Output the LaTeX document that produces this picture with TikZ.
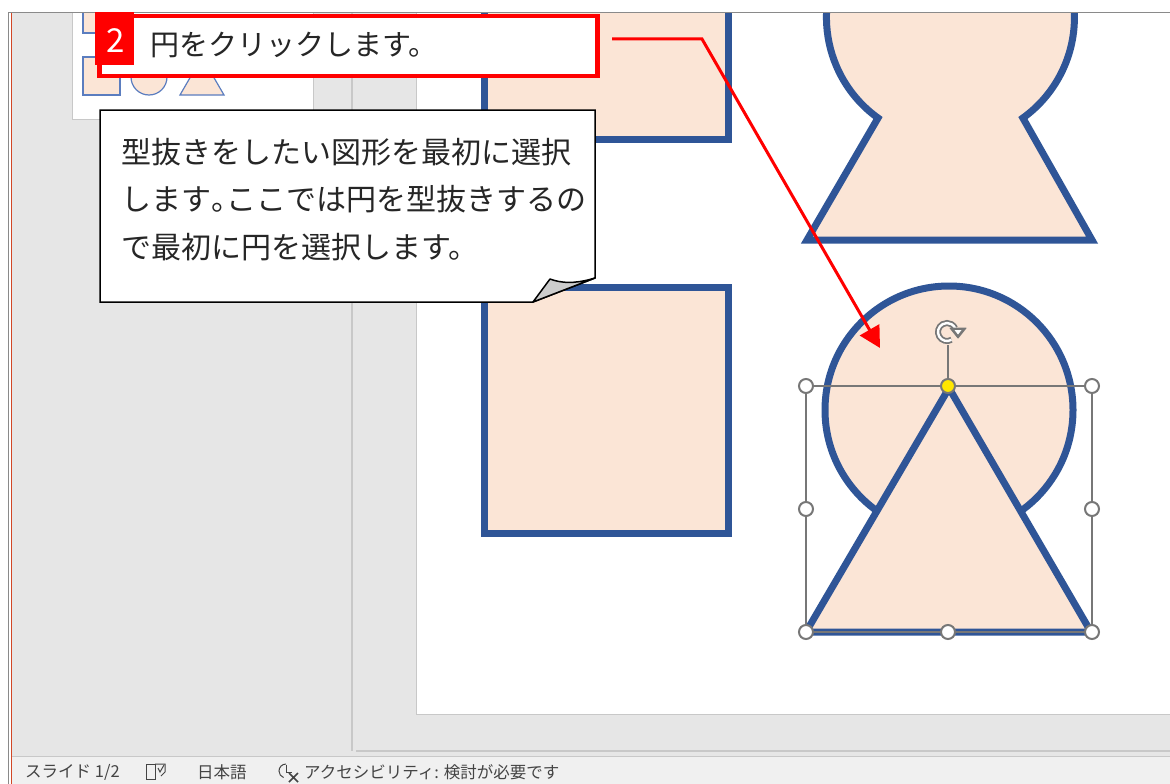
\documentclass[tikz,border=0pt]{standalone}
\usepackage{fontspec}
\setmainfont{Noto Sans CJK JP}
\usetikzlibrary{arrows.meta}
\definecolor{bgrey}{HTML}{E6E6E6}
\definecolor{statusbg}{HTML}{F0F0F0}
\definecolor{panelline}{HTML}{C8C8C8}
\definecolor{edgegrey}{HTML}{8A8A8A}
\definecolor{accent}{HTML}{D24726}
\definecolor{peach}{HTML}{FBE5D6}
\definecolor{shapeblue}{HTML}{2F5597}
\definecolor{thumbblue}{HTML}{5B7DBF}
\definecolor{handlegrey}{HTML}{777777}
\definecolor{handleyellow}{HTML}{FFE600}
\definecolor{stattext}{HTML}{444444}
\definecolor{foldgrey}{HTML}{CCCCCC}
\definecolor{redmark}{HTML}{FF0000}
\tikzset{
  slideshape/.style={fill=peach, draw=shapeblue, line width=7pt, line join=miter},
  thumbshape/.style={fill=peach, draw=thumbblue, line width=1.2pt},
  handle/.style={circle, fill=white, draw=handlegrey, line width=2pt, minimum size=14pt, inner sep=0pt},
  yhandle/.style={circle, fill=handleyellow, draw=handlegrey, line width=2pt, minimum size=14pt, inner sep=0pt},
  selline/.style={draw=handlegrey, line width=1.3pt},
  stat/.style={text=stattext, font=\fontsize{16.5}{18}\selectfont, inner sep=0pt, anchor=west},
  redarrow/.style={draw=redmark, line width=3pt, -{Triangle[length=21pt,width=22pt]}},
}
\begin{document}
\begin{tikzpicture}[x=1pt,y=-1pt]
\useasboundingbox (0,0) rectangle (1170,784);
\fill[white] (0,0) rectangle (1170,784);
% window areas
\fill[bgrey] (12,13) rectangle (1170,757);
\fill[statusbg] (12,757) rectangle (1170,784);
\draw[panelline, line width=1pt] (12,756.5) -- (1170,756.5);
\draw[panelline, line width=1.5pt] (352,13) -- (352,751);
\draw[panelline, line width=1.5pt] (356,751) -- (1170,751);
% slide
\fill[white] (417,13) rectangle (1170,714);
\draw[panelline, line width=1pt] (416.5,13) -- (416.5,714.5) -- (1170,714.5);
% slide shapes
\begin{scope}
\clip (417,13) rectangle (1170,714);
\draw[slideshape] (484,0) rectangle (728,139.5);
\draw[slideshape] (484,287) rectangle (728,533);
\draw[slideshape] (878,118) arc[start angle=125.75, end angle=414.25, radius=124] -- (1092,240) -- (807,240) -- cycle;
\draw[slideshape] (949,410) circle[radius=124];
\draw[slideshape] (949,388) -- (1091,632) -- (806,632) -- cycle;
\end{scope}
% selection frame
\draw[selline] (806,386) rectangle (1092,632);
\draw[selline] (948,345) -- (948,386);
\draw[handlegrey, line width=6pt] (947,332) ++(60:9) arc[start angle=60, end angle=335, radius=9];
\draw[white, line width=2.4pt] (947,332) ++(60:9) arc[start angle=60, end angle=335, radius=9];
\filldraw[handlegrey, line width=1pt, line join=round] (950,328) -- (966,328) -- (958,338) -- cycle;
\fill[white] (954.5,330) -- (961.5,330) -- (958,334.5) -- cycle;
\node[handle] (h1) at (806,386) {};
\node[yhandle] (h2) at (948,386) {};
\node[handle] (h3) at (1092,386) {};
\node[handle] (h4) at (806,509) {};
\node[handle] (h5) at (1092,509) {};
\node[handle] (h6) at (806,632) {};
\node[handle] (h7) at (948,632) {};
\node[handle] (h8) at (1092,632) {};
% thumbnail
\fill[white] (72,13) rectangle (313,119.5);
\draw[panelline, line width=1pt] (72,13) -- (72,119.5) -- (313,119.5) -- (313,13);
\begin{scope}
\clip (72,13) rectangle (313,119.5);
\draw[thumbshape] (83,0) rectangle (120,33);
\draw[thumbshape] (83,57) rectangle (120,95);
\draw[thumbshape] (149,77) circle[radius=18];
\draw[thumbshape] (180,95) -- (224,95) -- (202,57) -- cycle;
\end{scope}
% left window edge
\draw[edgegrey, line width=1.5pt] (8.5,12.5) -- (8.5,784);
\draw[edgegrey, line width=1.5pt] (8,12.5) -- (1170,12.5);
\draw[accent, line width=1pt] (11,13.5) -- (11,784);
% step box
\node[draw=redmark, fill=white, line width=4.5pt, minimum width=498pt, minimum height=60pt, anchor=north west, inner sep=0pt] (step2) at (97,14) {};
\fill[redmark] (95,12) rectangle (134,65);
\node[text=white, font=\fontsize{33}{33}\selectfont, inner sep=0pt] (num) at (115.5,41) {2};
\node[anchor=base west, inner sep=0pt, text=black!85, font=\fontsize{29}{29}\selectfont] (steptext) at (150,56) {円をクリックします。};
% callout
\draw[black, line width=1.5pt, fill=white] (100,110) -- (595,110) -- (595,278) -- (533,302) -- (100,302) -- cycle;
\draw[black, line width=1.5pt, fill=foldgrey, line join=round] (533,302) -- (550,279) .. controls (566,285) and (582,282) .. (595,278) -- cycle;
\node[anchor=north west, inner sep=0pt, align=left, text=black!85, font=\fontsize{30}{47.5}\selectfont] (callout) at (121,138) {型抜きをしたい図形を最初に選択\\します{\addfontfeature{RawFeature=+halt}。}ここでは円を型抜きするの\\で最初に円を選択します。};
% red pointer
\coordinate (p0) at (612,39);
\coordinate (p1) at (702,39);
\coordinate (p2) at (880,348);
\draw[redarrow] (p0) -- (p1) -- (p2);
% status bar
\node[stat] (s1) at (25,772) {スライド 1/2};
\draw[stattext, line width=1pt] (146,764) rectangle (155,779);
\draw[stattext, line width=1pt] (155,764) -- (165,764) -- (165,772) -- (161,776);
\draw[stattext, line width=1pt] (158,768) -- (160,772) -- (164,765);
\node[stat] (s2) at (197,772) {日本語};
\draw[stattext, line width=1pt] (286,764) arc[start angle=-90, end angle=-250, radius=7];
\draw[stattext, line width=1pt] (286,765) -- (286,772) -- (292,772);
\draw[stattext, line width=1.6pt] (289,773) -- (298,782) (298,773) -- (289,782);
\node[stat] (s3) at (304,772) {アクセシビリティ: 検討が必要です};
\end{tikzpicture}
\end{document}
